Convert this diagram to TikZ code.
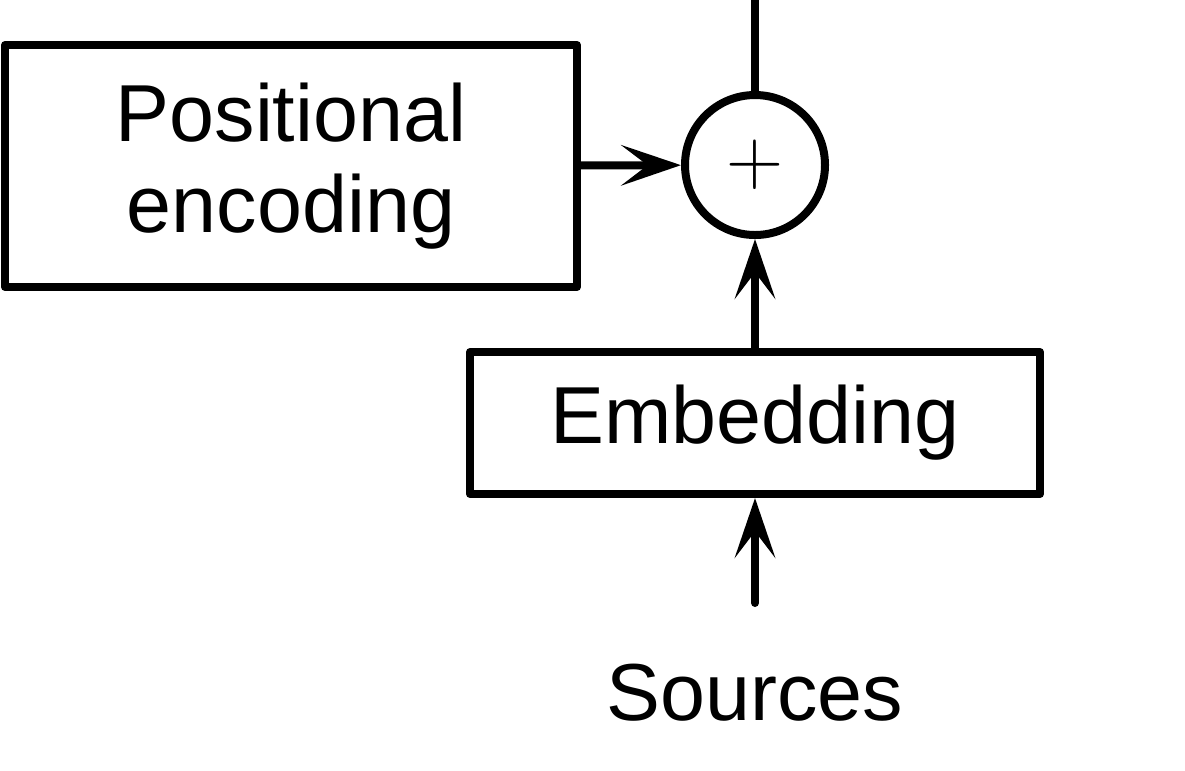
\documentclass[tikz,border=0pt]{standalone}
\usepackage{fontspec}
\setmainfont{Liberation Sans}
\newfontfamily\plusfont{Latin Modern Roman}
\usetikzlibrary{arrows.meta}

\begin{document}
\begin{tikzpicture}[line width=0.16cm, line join=round,
  block/.style={draw, inner sep=0pt, align=center, font=\fontsize{46}{52}\selectfont},
  arr/.style={-{Stealth[length=34pt, width=23pt, inset=15pt, line join=miter]}}]
\useasboundingbox (0,0) rectangle (23.7,-15.4);
\node [block, minimum width=11.44cm, minimum height=4.84cm] (pe) at (5.82,-3.32) {Positional\\encoding};
\node [draw, circle, minimum size=2.8cm, inner sep=0pt, font=\fontsize{45}{45}\plusfont] (add) at (15.1,-3.3) {+};
\node [block, minimum width=11.4cm, minimum height=2.84cm] (emb) at (15.1,-8.46) {Embedding};
\node [font=\fontsize{46}{52}\selectfont] (src) at (15.1,-13.85) {Sources};
\coordinate (top) at (15.1,0);
\coordinate (in) at (15.1,-12.06);
\draw (add) -- (top);
\draw [arr] (pe) -- (add);
\draw [arr] (emb) -- (add);
\draw [arr, line cap=round] (in) -- (emb);
\end{tikzpicture}
\end{document}
